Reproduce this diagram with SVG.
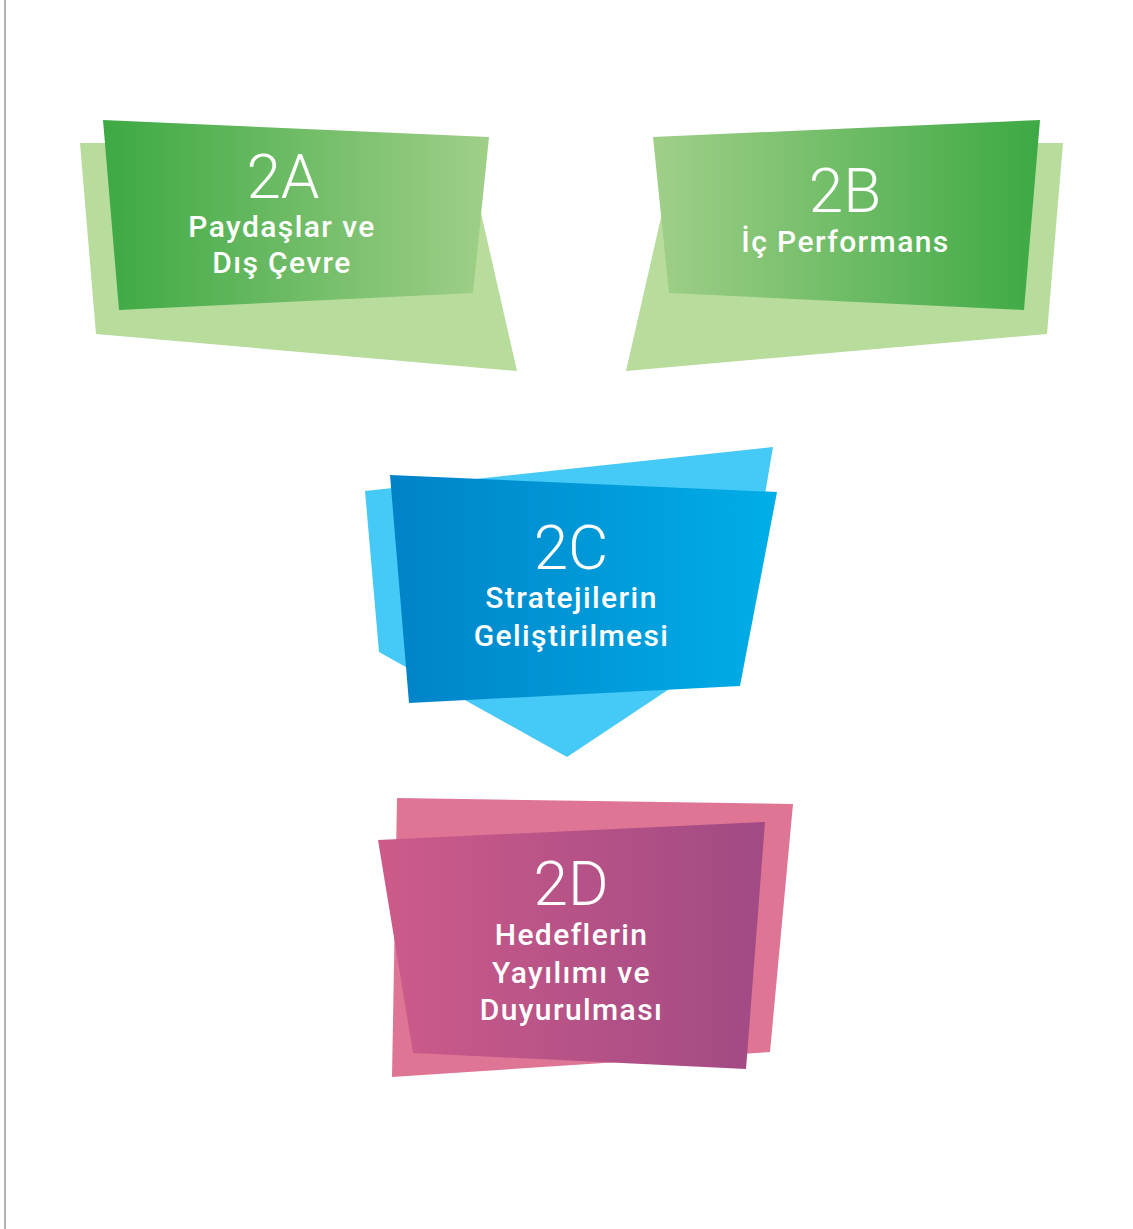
<svg xmlns="http://www.w3.org/2000/svg" width="1133" height="1229" viewBox="0 0 1133 1229">
  <defs>
    <linearGradient id="gA" x1="0" y1="0" x2="1" y2="0">
      <stop offset="0" stop-color="#3da944"/>
      <stop offset="1" stop-color="#a0cf88"/>
    </linearGradient>
    <linearGradient id="gB" x1="0" y1="0" x2="1" y2="0">
      <stop offset="0" stop-color="#a0cf88"/>
      <stop offset="1" stop-color="#3da944"/>
    </linearGradient>
    <linearGradient id="gC" x1="0" y1="0" x2="1" y2="0">
      <stop offset="0" stop-color="#0082c8"/>
      <stop offset="1" stop-color="#00aee7"/>
    </linearGradient>
    <linearGradient id="gD" x1="0" y1="0" x2="1" y2="0">
      <stop offset="0" stop-color="#cd5b8a"/>
      <stop offset="1" stop-color="#a14a84"/>
    </linearGradient>
    <style>
      .code { font-family: "Roboto", "Open Sans", "Liberation Sans", sans-serif; font-weight: 300; font-size: 62px; fill: #ffffff; text-anchor: middle; }
      .lbl { font-family: "Roboto", "Open Sans", "Liberation Sans", sans-serif; font-weight: 500; font-size: 30px; letter-spacing: 1.4px; fill: #ffffff; text-anchor: middle; }
      .backGreen { fill: #b8dc9c; }
      .backBlue { fill: #45c9f6; }
      .backPink { fill: #de7594; }
    </style>
  </defs>

  <rect width="1133" height="1229" fill="#ffffff"/>
  <!-- page margin rule -->
  <line x1="5" y1="0" x2="5" y2="1229" stroke="#9a9a9a" stroke-width="1.5"/>

  <g id="node-2A">
    <polygon class="backGreen" points="80,143 465,143 517,371 96,334"/>
    <polygon fill="url(#gA)" points="103,120 489,137 473,293 119,310"/>
    <text class="code" x="283" y="198">2A</text>
    <text class="lbl" x="282" y="237">Paydaşlar ve</text>
    <text class="lbl" x="282" y="273">Dış Çevre</text>
  </g>

  <g id="node-2B">
    <polygon class="backGreen" points="1063,143 678,143 626,371 1047,334"/>
    <polygon fill="url(#gB)" points="653,137 1040,120 1024,310 669,293"/>
    <text class="code" x="845" y="212">2B</text>
    <text class="lbl" x="845.5" y="252">İç Performans</text>
  </g>

  <g id="node-2C">
    <polygon class="backBlue" points="365,491 773,447 740,642 567,757 379,652"/>
    <polygon fill="url(#gC)" points="390,475 777,492 740,686 409,703"/>
    <text class="code" x="571" y="569">2C</text>
    <text class="lbl" x="571.5" y="608">Stratejilerin</text>
    <text class="lbl" x="571.5" y="646">Geliştirilmesi</text>
  </g>

  <g id="node-2D">
    <polygon class="backPink" points="397,798 793,804 770,1052 392,1077"/>
    <polygon fill="url(#gD)" points="378,840 765,822 746,1069 413,1053"/>
    <text class="code" x="571" y="905">2D</text>
    <text class="lbl" x="571.5" y="945">Hedeflerin</text>
    <text class="lbl" x="571.5" y="983">Yayılımı ve</text>
    <text class="lbl" x="571.5" y="1020">Duyurulması</text>
  </g>

  <g id="connectors"></g>
</svg>
